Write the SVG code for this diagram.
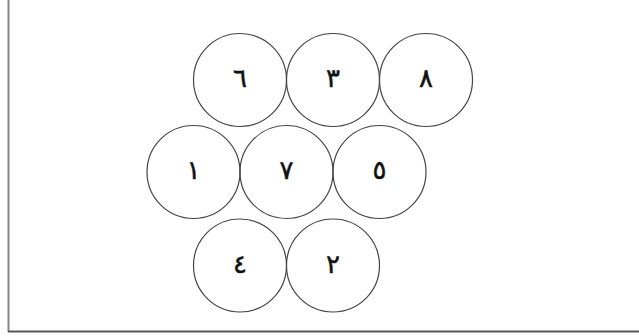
<svg xmlns="http://www.w3.org/2000/svg" width="639" height="336" viewBox="0 0 639 336">
<style>
.c{fill:none;stroke:#444;stroke-width:1.2}
.t{font-family:"DejaVu Sans",serif;font-size:26px;fill:#111;stroke:#111;stroke-width:0.5;text-anchor:middle;dominant-baseline:central}
</style>
<rect width="639" height="336" fill="#fff"/>
<g id="frame">
<line x1="8.5" y1="0" x2="8.5" y2="332" stroke="#888" stroke-width="2"/>
<line x1="8" y1="331.5" x2="639" y2="331.5" stroke="#555" stroke-width="2"/>
</g>
<g id="n6"><circle class="c" cx="240" cy="80" r="46.5"/><text class="t" x="240" y="78">٦</text></g>
<g id="n3"><circle class="c" cx="333" cy="80" r="46.5"/><text class="t" x="333" y="78">٣</text></g>
<g id="n8"><circle class="c" cx="426" cy="80" r="46.5"/><text class="t" x="426" y="78">٨</text></g>
<g id="n1"><circle class="c" cx="193.5" cy="172" r="46.5"/><text class="t" x="193.5" y="170">١</text></g>
<g id="n7"><circle class="c" cx="286.5" cy="172" r="46.5"/><text class="t" x="286.5" y="170">٧</text></g>
<g id="n5"><circle class="c" cx="379.5" cy="172" r="46.5"/><text class="t" x="379.5" y="170">٥</text></g>
<g id="n4"><circle class="c" cx="240" cy="265.5" r="46.5"/><text class="t" x="240" y="263.5">٤</text></g>
<g id="n2"><circle class="c" cx="333" cy="265.5" r="46.5"/><text class="t" x="333" y="263.5">٢</text></g>
<g id="connectors"></g>
</svg>
